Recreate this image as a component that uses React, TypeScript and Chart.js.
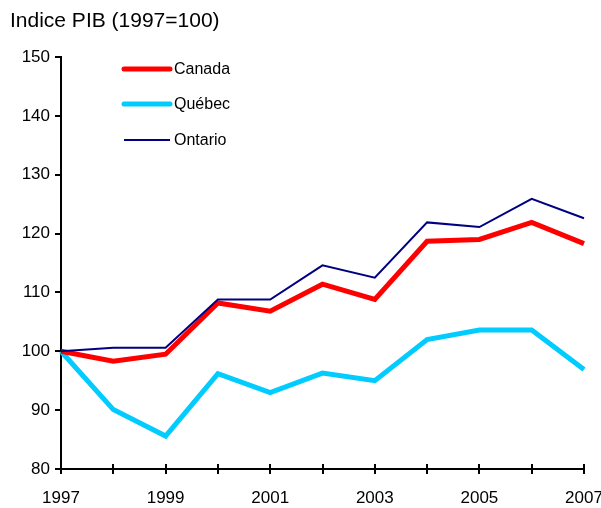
import React, { useEffect, useRef } from 'react';
import { Chart, registerables } from 'chart.js';

Chart.register(...registerables);

const years = ['1997', '1998', '1999', '2000', '2001', '2002', '2003', '2004', '2005', '2006', '2007'];
const canada = [100, 98.3, 99.5, 108.2, 106.8, 111.4, 108.8, 118.7, 119.0, 121.9, 118.3];
const quebec = [100, 90.1, 85.6, 96.2, 93.0, 96.3, 95.0, 102.0, 103.6, 103.6, 96.9];
const ontario = [100, 100.6, 100.6, 108.8, 108.8, 114.6, 112.5, 121.9, 121.1, 125.9, 122.6];
const yMin = 80;
const yMax = 150;
const yStep = 10;
const titleText = 'Indice PIB (1997=100)';
const seriesNames = ['Canada', 'Québec', 'Ontario'];
const seriesColors = ['#FF0000', '#00CCFF', '#000080'];
const seriesWidths = [5, 5, 2];

const FONT = "'Liberation Sans', Arial, sans-serif";

const decorPlugin = {
  id: 'decor',
  afterDraw(chart: any) {
    const ctx = chart.ctx;
    const area = chart.chartArea;
    const xs = chart.scales.x;
    ctx.save();
    // inner part of x tick marks
    ctx.strokeStyle = '#000';
    ctx.lineWidth = 2;
    for (let i = 0; i < xs.ticks.length; i++) {
      const px = Math.round(xs.getPixelForTick(i));
      ctx.beginPath();
      ctx.moveTo(px, area.bottom);
      ctx.lineTo(px, area.bottom - 5);
      ctx.stroke();
    }
    // title
    ctx.fillStyle = '#000';
    ctx.font = `21px ${FONT}`;
    ctx.textAlign = 'left';
    ctx.textBaseline = 'alphabetic';
    ctx.fillText(titleText, 10, 27);
    // legend
    const ys = [69, 104, 140];
    ctx.font = `16px ${FONT}`;
    ctx.textBaseline = 'middle';
    for (let i = 0; i < seriesNames.length; i++) {
      ctx.strokeStyle = seriesColors[i];
      ctx.lineWidth = seriesWidths[i];
      ctx.lineCap = seriesWidths[i] > 2 ? 'round' : 'butt';
      ctx.beginPath();
      ctx.moveTo(area.left + 63, ys[i]);
      ctx.lineTo(area.left + 109, ys[i]);
      ctx.stroke();
      ctx.fillStyle = '#000';
      ctx.fillText(seriesNames[i], area.left + 113, ys[i] + 1);
    }
    ctx.restore();
  },
};

export default function App() {
  const ref = useRef<HTMLCanvasElement | null>(null);
  useEffect(() => {
    if (!ref.current) return;
    const chart = new Chart(ref.current, {
      type: 'line',
      data: {
        labels: years,
        datasets: [
          { label: seriesNames[2], data: ontario, borderColor: seriesColors[2], borderWidth: seriesWidths[2] },
          { label: seriesNames[0], data: canada, borderColor: seriesColors[0], borderWidth: seriesWidths[0] },
          { label: seriesNames[1], data: quebec, borderColor: seriesColors[1], borderWidth: seriesWidths[1] },
        ].map((d) => ({
          ...d,
          pointRadius: 0,
          pointHoverRadius: 0,
          tension: 0,
          fill: false,
          borderJoinStyle: 'miter' as const,
          borderCapStyle: 'butt' as const,
          clip: 6,
        })),
      },
      options: {
        responsive: false,
        animation: false,
        layout: { padding: { top: 57, right: 17, left: 0, bottom: 0 } },
        plugins: {
          legend: { display: false },
          title: { display: false },
          tooltip: { enabled: false },
        },
        scales: {
          x: {
            offset: false,
            grid: {
              display: true,
              drawOnChartArea: false,
              drawTicks: true,
              tickLength: 5,
              color: '#000',
              lineWidth: 2,
            },
            border: { display: true, color: '#000', width: 2 },
            ticks: {
              autoSkip: false,
              maxRotation: 0,
              color: '#000',
              font: { family: FONT, size: 17 },
              padding: 14,
              callback: (_v: any, i: number) => (i % 2 === 0 ? years[i] : ''),
            },
            afterFit: (s: any) => {
              s.height = 39;
              s.paddingLeft = 0;
              s.paddingRight = 0;
            },
          },
          y: {
            min: yMin,
            max: yMax,
            grid: {
              display: true,
              drawOnChartArea: false,
              drawTicks: true,
              tickLength: 6,
              color: '#000',
              lineWidth: 2,
            },
            border: { display: true, color: '#000', width: 2 },
            ticks: {
              stepSize: yStep,
              color: '#000',
              font: { family: FONT, size: 17 },
              padding: 5,
            },
            afterFit: (s: any) => {
              s.width = 61;
              s.paddingTop = 0;
              s.paddingBottom = 0;
            },
          },
        },
      },
      plugins: [decorPlugin],
    });
    return () => chart.destroy();
  }, []);
  return (
    <div style={{ position: 'fixed', left: 0, top: 0, width: 601, height: 508, background: '#fff' }}>
      <canvas ref={ref} width={601} height={508} style={{ display: 'block' }} />
    </div>
  );
}
